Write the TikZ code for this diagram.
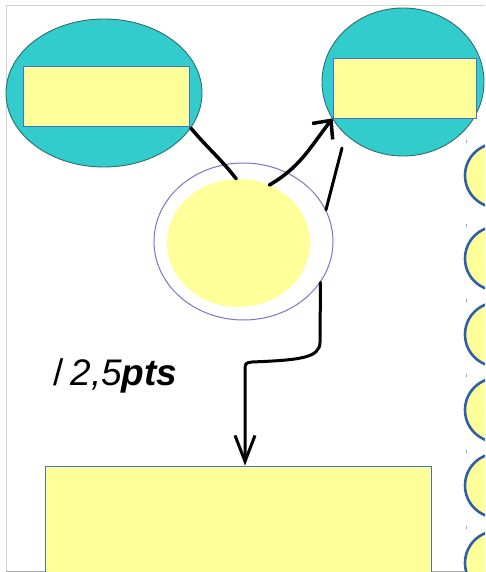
\documentclass[tikz,border=0pt]{standalone}
\usepackage{fontspec}
\setmainfont{Liberation Sans}
\usetikzlibrary{shapes.geometric,arrows.meta}
\definecolor{tealc}{HTML}{33CCCC}
\definecolor{tealborder}{HTML}{2E6E70}
\definecolor{yel}{HTML}{FFFF99}
\definecolor{boxblue}{HTML}{4472C4}
\definecolor{circblue}{HTML}{2E5FA8}
\definecolor{ringblue}{HTML}{7777CC}
\tikzset{
  tealell/.style={ellipse, draw=tealborder, fill=tealc, line width=0.9pt, inner sep=0pt},
  ybox/.style={rectangle, draw=boxblue, fill=yel, line width=0.8pt, inner sep=0pt},
  sidecirc/.style={circle, draw=circblue, fill=yel, line width=2.6pt, minimum size=64pt, inner sep=0pt},
  conn/.style={line width=3.5pt, black, line cap=round},
  tick/.style={draw=boxblue!60, line width=0.8pt}
}
\begin{document}
\begin{tikzpicture}[x=1pt,y=-1pt]
\useasboundingbox (0,0) rectangle (485,572);
\clip (0,0) rectangle (485,572);
\fill[white] (0,0) rectangle (485,572);
% frame
\draw[gray!35, line width=1pt] (490,6) -- (6,6) -- (6,571.5);
\draw[gray!70, line width=1pt] (6,571.5) -- (490,571.5);
% top ellipses
\node[tealell, minimum width=196pt, minimum height=148pt] (lell) at (104,93) {};
\node[ybox, minimum width=166pt, minimum height=60pt] (lbox) at (106,96) {};
\node[tealell, minimum width=162pt, minimum height=148pt] (rell) at (403,82) {};
\node[ybox, minimum width=143pt, minimum height=60pt] (rbox) at (404.5,88) {};
% middle
\node[ellipse, draw=ringblue, fill=white, line width=1pt, minimum width=179pt, minimum height=157pt, inner sep=0pt] (ring) at (243.5,241.5) {};
\node[ellipse, fill=yel, minimum width=143pt, minimum height=128pt, inner sep=0pt] (yin) at (238.5,243) {};
% bottom box
\node[ybox, minimum width=386pt, minimum height=134pt] (bot) at (238,533) {};
% side circles
\foreach \i/\yy in {1/175.5, 2/258.5, 3/334.5, 4/410, 5/485.5, 6/563} {
  \node[sidecirc] (sc\i) at (497,\yy) {};
}
\foreach \yy in {142,225,300,375,451,527} {
  \draw[tick] (466,\yy-1.5) -- (466,\yy+1.5);
}
% label
\node[anchor=base west, inner sep=0pt] (lbl) at (53,385)
  {\fontsize{37}{37}\selectfont /\hspace{7pt}\itshape 2,5\textbf{pts}};
% connectors
\draw[conn] (lell.-22) to[out=-50,in=128] (yin.92);
\draw[conn, -{Straight Barb[length=14pt,width=26pt]}] (yin.62) to[out=30,in=-128] (rbox.south west);
\coordinate (c3) at (342,148);
\draw[conn, line width=3pt] (c3) -- (ring.21);
\coordinate (k1) at (320,342);
\coordinate (k2) at (252,362);
\draw[conn, line width=3pt, -{Straight Barb[length=26pt,width=20pt]}]
  (ring.-28) -- (k1) .. controls (320,358) and (300,360) .. (k2)
  .. controls (245,363) .. (245,372) -- ([xshift=7pt]bot.north);
\end{tikzpicture}
\end{document}
